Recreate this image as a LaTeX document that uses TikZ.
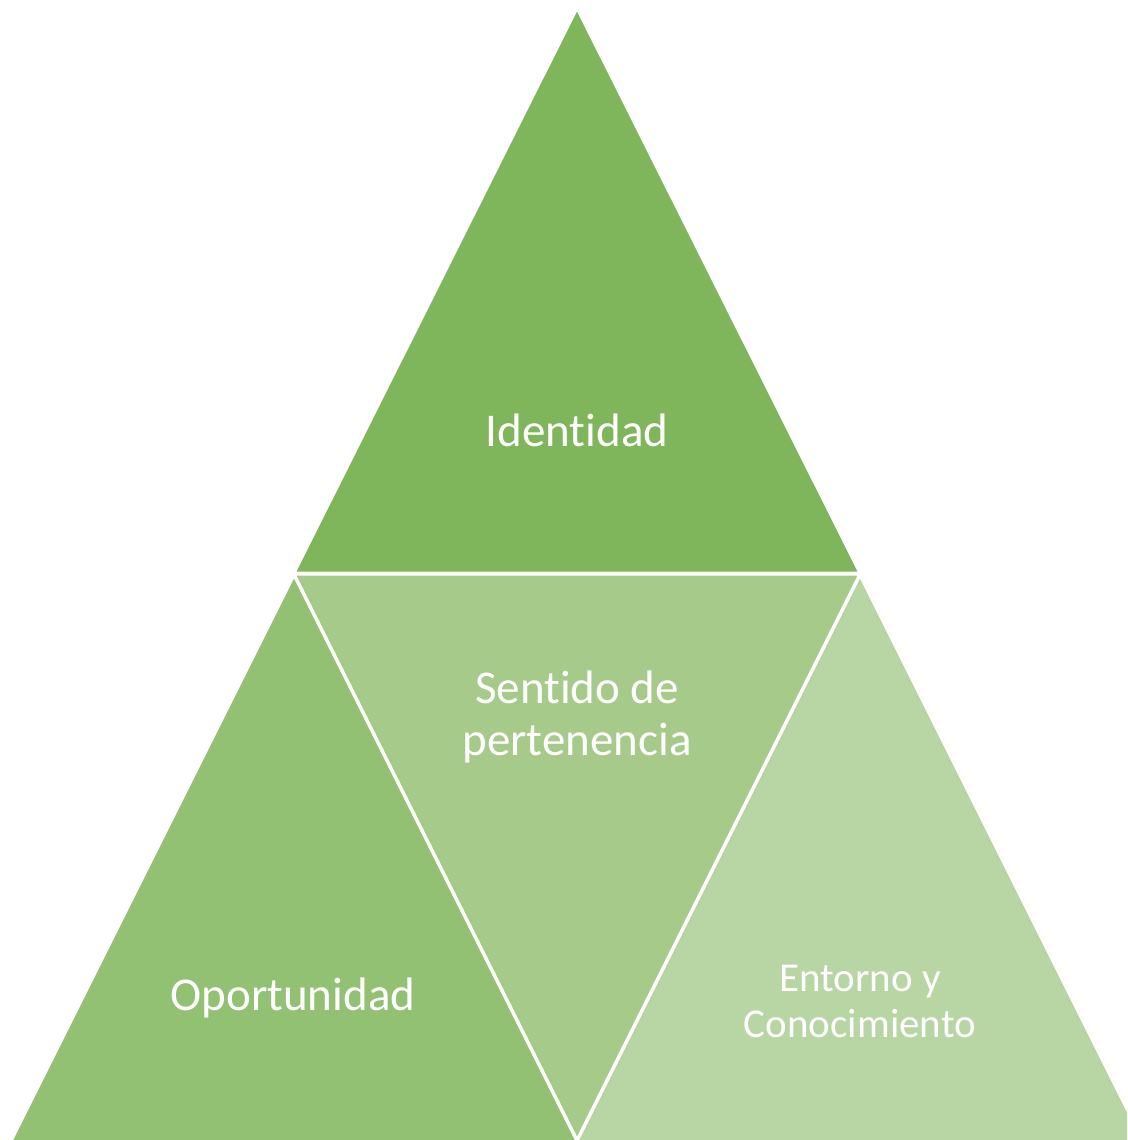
\documentclass[tikz,border=0pt]{standalone}
\usepackage{fontspec}
\setmainfont[Ligatures={NoCommon}]{Carlito}
\definecolor{ctop}{RGB}{128,182,91}
\definecolor{cmid}{RGB}{166,202,138}
\definecolor{cleft}{RGB}{147,193,116}
\definecolor{cright}{RGB}{184,213,164}
\tikzset{
  tri/.style={draw=white, line width=3pt, line join=miter},
  lbl/.style={text=white, align=center, inner sep=0pt},
  big/.style={font=\fontsize{47}{52}\selectfont},
  small/.style={font=\fontsize{41}{46}\selectfont}
}
\begin{document}
\begin{tikzpicture}[x=1pt,y=-1pt]
\useasboundingbox (0,0) rectangle (1127,1140);
\clip (0,0) rectangle (1127,1140);
\fill[white] (0,0) rectangle (1127,1140);
\filldraw[tri, fill=ctop] (577,8) -- (294,573) -- (860,573) -- cycle;
\filldraw[tri, fill=cleft] (294,575) -- (10,1143) -- (578,1143) -- cycle;
\filldraw[tri, fill=cright] (860,575) -- (576,1143) -- (1144,1143) -- cycle;
\filldraw[tri, fill=cmid] (294,574) -- (860,574) -- (577,1140) -- cycle;
\node[lbl, big] (ident) at (577,430) {Identidad};
\node[lbl, big] (sent) at (577,717) {Sentido de\\pertenencia};
\node[lbl, big] (oport) at (293,998) {Oportunidad};
\node[lbl, small] (ento) at (860,1001) {Entorno y\\Conocimiento};
\end{tikzpicture}
\end{document}
